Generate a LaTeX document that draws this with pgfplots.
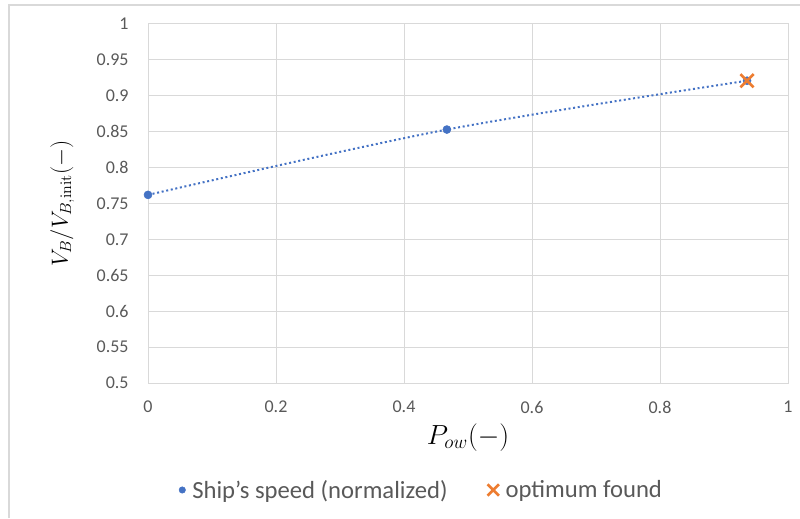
\documentclass[border=0pt]{standalone}
\usepackage[no-math]{fontspec}
\setmainfont{Carlito}
\usepackage{pgfplots}
\pgfplotsset{compat=1.18}
\definecolor{xlBlue}{HTML}{4472C4}
\definecolor{xlOrange}{HTML}{ED7D31}
\definecolor{xlGrid}{HTML}{D9D9D9}
\definecolor{xlText}{HTML}{595959}

\begin{document}
\begin{tikzpicture}
% canvas: 800 x 518 px at 0.75pt/px
\path[use as bounding box] (0,0) rectangle (600pt,388.5pt);
\draw[xlGrid, line width=0.9pt] (6.75pt,0) -- (6.75pt,384.75pt) -- (600pt,384.75pt);
\begin{axis}[
  at={(111pt,101.25pt)}, anchor=south west,
  width=480pt, height=269.25pt, scale only axis,
  xmin=0, xmax=1, ymin=0.5, ymax=1,
  xtick={0,0.2,...,1}, ytick={0.5,0.55,...,1.0001},
  major tick length=0pt,
  grid=major, grid style={xlGrid, line width=0.75pt},
  axis line style={xlGrid, line width=0.75pt},
  /pgf/number format/assume math mode=true,
  tick label style={font=\fontsize{13.5}{16}\selectfont, text=xlText},
  yticklabel style={xshift=-11pt},
  xticklabel style={yshift=-10pt},
  xlabel={$P_{ow}(-)$}, ylabel={$V_B/V_{B,\mathrm{init}}(-)$},
  xlabel style={font=\fontsize{21}{24}\selectfont, yshift=-1pt},
  ylabel style={font=\fontsize{18.5}{22}\selectfont, yshift=10pt},
  legend style={at={(0.426,-0.298)}, anchor=center, draw=none, fill=none,
    font=\fontsize{18.5}{22}\selectfont, text=xlText,
    /tikz/every even column/.append style={column sep=28pt}},
  legend columns=2,
  legend cell align=left,
]
\addplot[smooth, tension=0.5, xlBlue, line width=1.5pt, dash pattern=on 1.5pt off 2pt, forget plot]
  coordinates {(0,0.762) (0.467,0.853) (0.936,0.921)};
\addplot[only marks, mark=*, mark size=3pt, color=xlBlue,
  legend image code/.code={\path[draw=none, fill=none] (0pt,0pt) -- (9.75pt,0pt);
    \draw[mark=*, mark size=2.4pt, xlBlue] plot coordinates {(4.25pt,0pt)};}]
  coordinates {(0,0.762) (0.467,0.853) (0.936,0.921)};
\addlegendentry{Ship's speed (normalized)}
\addplot[only marks, mark=x, mark size=7pt, color=xlOrange, mark options={line width=2pt},
  legend image code/.code={\path[draw=none, fill=none] (0pt,0pt) -- (11.5pt,0pt);
    \draw[mark=x, mark size=6pt, xlOrange, line width=1.9pt] plot coordinates {(4.25pt,0pt)};}]
  coordinates {(0.936,0.921)};
\addlegendentry{optimum found}
\end{axis}
\end{tikzpicture}
\end{document}
